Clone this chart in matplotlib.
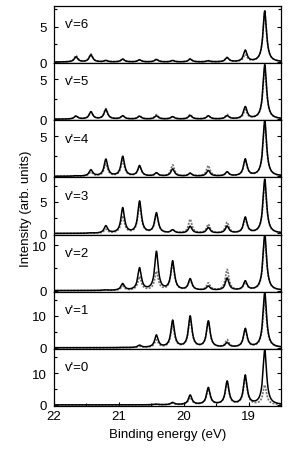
import numpy as np
import matplotlib
matplotlib.use("Agg")
import matplotlib.pyplot as plt
from matplotlib.ticker import MultipleLocator

plt.rcParams['font.family'] = ['Liberation Sans', 'DejaVu Sans']

# Peak positions (binding energy, eV)
peak_energies = [18.75, 19.05, 19.33, 19.62, 19.90, 20.17, 20.42, 20.68, 20.94, 21.20, 21.43, 21.66]

# Peak heights per panel (solid and dotted curves)
v6_solid  = [7.2, 1.6, 0.6, 0.15, 0.4, 0.2, 0.35, 0.3, 0.4, 0.2, 1.0, 0.7]
v6_dotted = [7.0, 1.0, 0.6, 0.15, 0.45, 0.2, 0.4, 0.3, 0.4, 0.2, 1.1, 0.9]
v5_solid  = [6.8, 1.5, 0.4, 0.4, 0.45, 0.3, 0.4, 0.35, 0.4, 1.2, 0.9, 0.37]
v5_dotted = [6.3, 1.1, 0.55, 0.4, 0.55, 0.3, 0.55, 0.4, 0.4, 1.3, 0.9, 0.4]
v4_solid  = [7.0, 2.1, 0.5, 0.7, 0.35, 0.9, 0.4, 1.3, 2.45, 2.1, 0.77, 0.05]
v4_dotted = [6.5, 1.9, 0.5, 1.3, 0.35, 1.4, 0.35, 1.2, 1.9, 1.5, 0.5, 0.05]
v3_solid  = [8.6, 2.5, 1.1, 0.9, 1.1, 0.5, 3.2, 5.05, 4.0, 1.15, 0.05, 0.0]
v3_dotted = [8.0, 2.2, 1.7, 1.4, 2.2, 0.5, 3.0, 4.3, 2.7, 0.6, 0.05, 0.0]
v2_solid  = [12.5, 2.0, 2.7, 0.9, 2.5, 6.4, 8.5, 4.9, 1.45, 0.1, 0.0, 0.0]
v2_dotted = [11.5, 1.6, 4.6, 1.6, 2.3, 5.9, 4.1, 3.0, 0.9, 0.1, 0.0, 0.0]
v1_solid  = [17.3, 5.8, 1.4, 8.2, 9.7, 8.4, 3.8, 0.7, 0.05, 0.0, 0.0, 0.0]
v1_dotted = [15.0, 5.3, 2.3, 7.9, 8.9, 6.9, 2.3, 0.4, 0.05, 0.0, 0.0, 0.0]
v0_solid  = [17.2, 9.1, 7.3, 5.3, 3.0, 0.7, 0.2, 0.0, 0.0, 0.0, 0.0, 0.0]
v0_dotted = [6.1, 8.6, 6.9, 4.8, 2.2, 0.5, 0.1, 0.0, 0.0, 0.0, 0.0, 0.0]

panel_labels = ["v'=6", "v'=5", "v'=4", "v'=3", "v'=2", "v'=1", "v'=0"]
y_tops = [7.9, 7.0, 7.0, 8.9, 12.4, 17.5, 17.6]
y_major = [5, 5, 5, 5, 10, 10, 10]

panels = [(v6_solid, v6_dotted), (v5_solid, v5_dotted), (v4_solid, v4_dotted),
          (v3_solid, v3_dotted), (v2_solid, v2_dotted), (v1_solid, v1_dotted),
          (v0_solid, v0_dotted)]

gamma = 0.033
E = np.linspace(18.4, 22.1, 4000)

def spectrum(heights):
    y = np.zeros_like(E)
    for e0, h in zip(peak_energies, heights):
        y += h / (1.0 + ((E - e0) / gamma) ** 2)
    return y

fig = plt.figure(figsize=(2.88, 4.56), dpi=100)
gs = fig.add_gridspec(7, 1, left=54/288, right=281/288, top=1-7/456, bottom=1-407/456, hspace=0)
axes = []
for i, (sol, dot) in enumerate(panels):
    ax = fig.add_subplot(gs[i, 0])
    axes.append(ax)
    ax.plot(E, spectrum(dot), color='0.45', ls=(0, (1.2, 0.8)), lw=1.2)
    ax.plot(E, spectrum(sol), color='black', lw=1.1)
    ax.set_xlim(22, 18.5)
    ax.set_ylim(-0.02 * y_tops[i], y_tops[i])
    ax.yaxis.set_major_locator(MultipleLocator(y_major[i]))
    ax.yaxis.set_minor_locator(MultipleLocator(y_major[i] / 2))
    ax.set_yticks([0, y_major[i]])
    ax.tick_params(axis='y', which='both', direction='in', right=True, labelsize=9.5, length=3, width=0.8, pad=5)
    ax.tick_params(axis='y', which='minor', length=2)
    ax.text(0.05, 0.68, panel_labels[i], transform=ax.transAxes, fontsize=9.5, va='center', ha='left')
    for s in ax.spines.values():
        s.set_linewidth(0.9)
    ax.xaxis.set_major_locator(MultipleLocator(1))
    ax.xaxis.set_minor_locator(MultipleLocator(0.5))
    if i < 6:
        ax.tick_params(axis='x', which='both', bottom=False, labelbottom=False)
    else:
        ax.tick_params(axis='x', which='both', direction='in', labelsize=9.5, length=3, width=0.8, pad=3)
        ax.tick_params(axis='x', which='minor', length=2)
        ax.set_xlabel('Binding energy (eV)', fontsize=9.5, labelpad=4)

fig.text(0.09, (1 - 209/456), 'Intensity (arb. units)', rotation=90, fontsize=9.5, va='center', ha='center')
fig.savefig('out.png', dpi=100)
